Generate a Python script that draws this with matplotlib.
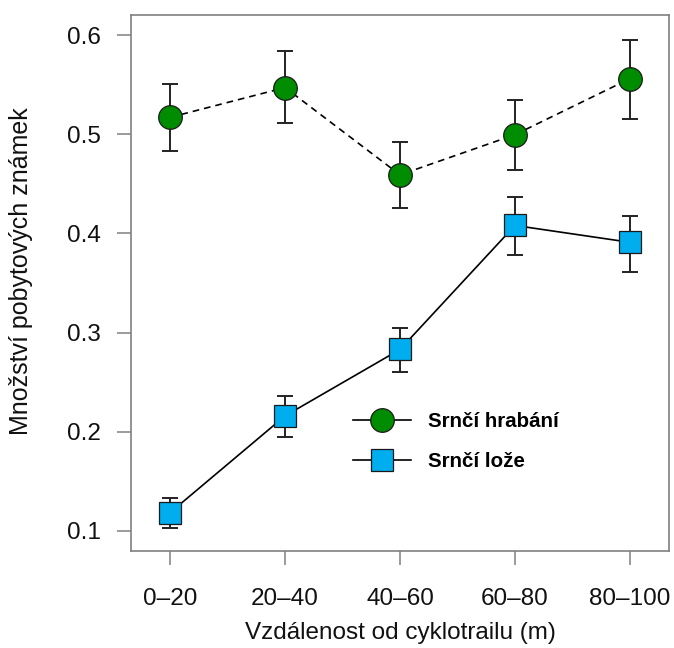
import matplotlib
matplotlib.use("Agg")
import matplotlib.pyplot as plt

# -----------------------------
# DATA
# -----------------------------
categories = ["0\u201320", "20\u201340", "40\u201360", "60\u201380", "80\u2013100"]
x_pos = [1, 2, 3, 4, 5]

hrabani_mean = [0.517, 0.547, 0.459, 0.4995, 0.556]
hrabani_low = [0.483, 0.511, 0.426, 0.464, 0.515]
hrabani_high = [0.551, 0.584, 0.492, 0.534, 0.595]

loze_mean = [0.1185, 0.216, 0.283, 0.408, 0.391]
loze_low = [0.103, 0.195, 0.260, 0.378, 0.361]
loze_high = [0.133, 0.236, 0.305, 0.437, 0.418]

y_ticks = [0.1, 0.2, 0.3, 0.4, 0.5, 0.6]

# -----------------------------
# PLOT
# -----------------------------
plt.rcParams["font.family"] = ["Liberation Sans", "DejaVu Sans"]

fig = plt.figure(figsize=(6.74, 6.48), dpi=100)
ax = fig.add_axes([0.1944, 0.1497, 0.7982, 0.8272])

green = "#008c00"
blue = "#00adef"
frame_col = "#808080"
text_col = "#111111"


def errs(mean, low, high):
    return [[m - l for m, l in zip(mean, low)], [h - m for m, h in zip(mean, high)]]


# error bars
ax.errorbar(x_pos, hrabani_mean, yerr=errs(hrabani_mean, hrabani_low, hrabani_high),
            fmt="none", ecolor="#222222", elinewidth=1.4, capsize=5.5, capthick=1.4, zorder=2)
ax.errorbar(x_pos, loze_mean, yerr=errs(loze_mean, loze_low, loze_high),
            fmt="none", ecolor="#222222", elinewidth=1.4, capsize=5.5, capthick=1.4, zorder=2)

# connecting lines
ax.plot(x_pos, hrabani_mean, color="black", linestyle=(0, (4, 3)), linewidth=1.2, zorder=3)
ax.plot(x_pos, loze_mean, color="black", linestyle="-", linewidth=1.2, zorder=3)

# markers
ax.plot(x_pos, hrabani_mean, linestyle="none", marker="o", markersize=17,
        markerfacecolor=green, markeredgecolor="#1a1a1a", markeredgewidth=0.9, zorder=4)
ax.plot(x_pos, loze_mean, linestyle="none", marker="s", markersize=16.5,
        markerfacecolor=blue, markeredgecolor="#1a1a1a", markeredgewidth=0.9, zorder=4)

# legend handles (solid line through marker)
h1, = ax.plot([], [], color="black", linewidth=1.2, marker="o", markersize=17,
              markerfacecolor=green, markeredgecolor="#1a1a1a", markeredgewidth=0.9)
h2, = ax.plot([], [], color="black", linewidth=1.2, marker="s", markersize=16.5,
              markerfacecolor=blue, markeredgecolor="#1a1a1a", markeredgewidth=0.9)
ax.legend([h1, h2], ["Srn\u010d\u00ed hrab\u00e1n\u00ed", "Srn\u010d\u00ed lo\u017ee"],
          loc="upper left", bbox_to_anchor=(0.394, 0.278), frameon=False,
          prop={"weight": "bold", "size": 14.8}, handlelength=2.8, handletextpad=0.85,
          labelspacing=1.0, borderpad=0)

ax.set_xlim(0.66, 5.34)
ax.set_ylim(0.0798, 0.6202)
ax.set_xticks(x_pos)
ax.set_xticklabels(categories)
ax.set_yticks(y_ticks)
ax.set_yticklabels([f"{v:.1f}" for v in y_ticks])

for s in ax.spines.values():
    s.set_color(frame_col)
    s.set_linewidth(1.2)

ax.tick_params(axis="both", direction="out", length=10, width=1.1, color=frame_col,
               labelsize=17.5, labelcolor=text_col)
ax.tick_params(axis="x", pad=17)
ax.tick_params(axis="y", pad=12)

ax.set_xlabel("Vzd\u00e1lenost od cyklotrailu (m)", fontsize=17.5, color=text_col, labelpad=8)
ax.set_ylabel("Mno\u017estv\u00ed pobytov\u00fdch zn\u00e1mek", fontsize=18, color=text_col)
ax.yaxis.set_label_coords(-0.182, 0.522)

fig.savefig("out.png", dpi=100)
